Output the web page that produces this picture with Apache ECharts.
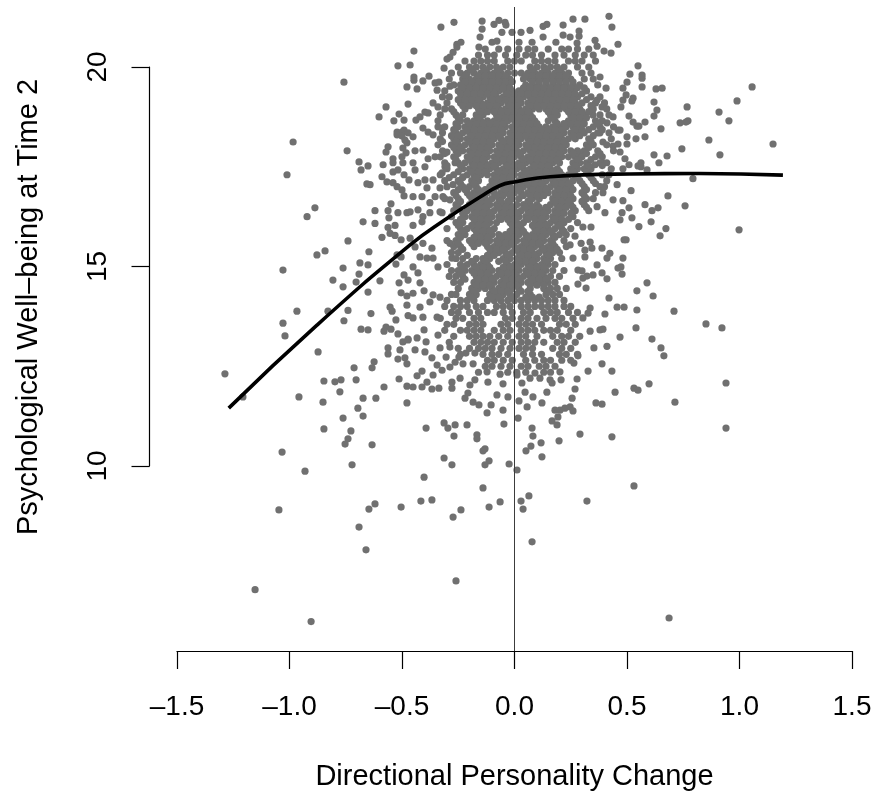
<!DOCTYPE html>
<html><head><meta charset="utf-8">
<style>html,body{margin:0;padding:0;background:#fff}#c{width:876px;height:794px}</style>
<script src="https://cdn.jsdelivr.net/npm/echarts@6/dist/echarts.min.js"></script>
</head><body><div id="c"></div>
<script>
const xTicks=[-1.5,-1,-0.5,0,0.5,1,1.5];
const xTickLabels=['–1.5','–1.0','–0.5','0.0','0.5','1.0','1.5'];
const xTitle='Directional Personality Change';
const yTitle='Psychological Well–being at Time 2';
const fitCurve=[[-1.27,11.45],[-.878,13.53],[-.464,15.54],[-.309,16.17],[-.153,16.74],[-.064,17.03],[0,17.12],[.158,17.25],[.513,17.32],[.82,17.33],[1.193,17.29]];
const upperLeft=[[-.518,20.03],[-.464,20.05],[-.758,19.62],[-.478,19.5],[-.473,19.07],[-.571,19],[-.513,18.82],[-.602,18.75],[-.536,18.65],[-.491,18.67],[-.522,18.37],[-.5,18.37],[-.522,18.3],[-.491,18.42],[-.473,18.35],[-.5,18.27],[-.984,18.12],[-.744,17.9],[-.478,18.1],[-.496,17.97],[-.562,18],[-.571,17.87],[-.482,17.85],[-.5,17.75],[-.691,17.62],[-.651,17.52],[-.584,17.55],[-.54,17.7],[-.54,17.6],[-.496,17.6],[-.682,17.42],[-1.011,17.3],[-.54,17.37],[-.518,17.42],[-.491,17.3],[-.589,17.25],[-.567,17.12],[-.54,17.1],[-.522,17],[-.5,16.92],[-.491,16.77],[-.469,17.17],[-.656,17.07],[-.642,17.05],[-.549,16.57],[-.887,16.47],[-.62,16.4],[-.562,16.4],[-.518,16.35],[-.478,16.35],[-.922,16.25],[-.558,16.22],[-.673,16.12]];
const lowerLeft=[[-.62,16.08],[-.562,15.98],[-.531,16.03],[-.553,15.83],[-.531,15.78],[-.589,15.73],[-.504,15.67],[-.74,15.64],[-.842,15.39],[-.878,15.29],[-.647,15.37],[-.522,15.29],[-.504,15.24],[-.687,15.09],[-.651,15.04],[-.527,15.06],[-1.029,14.91],[-.762,14.96],[-.691,14.81],[-.491,14.79],[-.473,14.66],[-.807,14.66],[-.704,14.61],[-.598,14.64],[-.513,14.59],[-.762,14.49],[-.651,14.36],[-.504,14.34],[-.478,14.26],[-.478,14.03],[-.553,13.98],[-.544,13.88],[-.967,13.88],[-.829,13.88],[-.74,13.9],[-.638,13.82],[-.473,13.77],[-.527,13.66],[-.758,13.64],[-1.029,13.58],[-1.02,13.26],[-.682,13.43],[-.651,13.41],[-.571,13.48],[-.58,13.38],[-.549,13.43],[-.518,13.31],[-.496,13.11],[-.473,13.16],[-.873,12.86],[-.562,12.96],[-.562,12.81],[-.509,12.91],[-.518,12.68],[-.487,12.71],[-.478,12.56],[-.713,12.46],[-.624,12.61],[-.633,12.46],[-1.287,12.31],[-.847,12.13],[-.798,12.11],[-.771,12.16],[-.704,12.16],[-.776,11.86],[-.513,12.18],[-.478,12],[-.58,11.98],[-1.207,11.73],[-.958,11.73],[-.851,11.6],[-.673,11.7],[-.616,11.7],[-.478,11.58],[-.696,11.45],[-.673,11.25],[-.762,11.2],[-.847,10.93],[-.727,10.88],[-.74,10.68],[-.753,10.55],[-.633,10.53],[-1.033,10.35],[-.931,9.87],[-.722,10.03]];
const bottomTail=[[-.393,10.95],[-.313,11.08],[-.296,10.95],[-.264,11.03],[-.211,11.03],[-.269,10.75],[-.167,10.78],[-.167,10.68],[-.131,10.43],[-.14,10.38],[-.313,10.2],[-.278,10.03],[-.113,10.13],[-.131,10.03],[-.402,9.72],[-.14,9.45],[-.416,9.12],[-.367,9.15],[-.064,9.1],[-.504,8.97],[-.62,9.05],[-.647,8.92],[-.113,8.97],[-.238,8.9],[-.273,8.72],[-1.047,8.9],[-.691,8.47],[-.66,7.9],[-.26,7.12],[-1.153,6.9],[-.904,6.1],[-.047,11.05],[.078,10.95],[.082,10.75],[.167,11.13],[.189,11.03],[.291,10.8],[.433,10.73],[.198,10.63],[.118,10.58],[.073,10.5],[.051,10.38],[.122,10.23],[-.024,10.05],[.011,9.9],[.064,9.25],[.029,9.12],[.038,8.92],[.322,9.12],[.531,9.5],[.078,8.1],[.687,6.19],[.94,10.95]];
const rightFringe=[[.482,15.21],[.473,14.99],[.478,14.81],[.589,14.59],[.544,14.39],[.616,14.26],[.487,13.98],[.544,13.91],[.709,13.88],[.851,13.56],[.922,13.46],[.54,13.46],[.469,13.23],[.611,13.18],[.651,12.96],[.664,12.76],[.94,12.08],[.598,12.06],[.531,11.95],[.549,11.9],[.713,11.6],[.549,20.03],[.513,19.82],[.567,19.8],[.567,19.72],[.5,19.62],[.482,19.47],[.567,19.5],[.629,19.45],[.656,19.47],[1.056,19.5],[.496,19.3],[.527,19.22],[.522,19.15],[.482,19.17],[.62,19.12],[.989,19.15],[.767,19],[.633,18.92],[.909,18.87],[.473,19],[.62,18.77],[.509,18.77],[.527,18.62],[.58,18.62],[.544,18.52],[.553,18.52],[.736,18.6],[.771,18.65],[.762,18.62],[.953,18.65],[.651,18.45],[.469,18.42],[.5,18.25],[.58,18.25],[.54,18.2],[.864,18.17],[1.149,18.07],[.5,18.07],[.744,17.95],[.469,17.87],[.62,17.8],[.913,17.8],[.678,17.77],[.491,17.7],[.642,17.6],[.562,17.6],[.509,17.55],[.549,17.52],[.562,17.5],[.482,17.45],[.589,17.42],[.793,17.2],[.518,16.9],[.682,16.77],[.482,16.65],[.58,16.55],[.509,16.47],[.758,16.52],[.638,16.47],[.611,16.4],[.478,16.35],[.522,16.22],[.469,16.17],[.607,16.12],[.553,16],[.673,15.95],[.998,15.92],[.647,15.77],[.487,15.67],[.496,15.67]];
const topFringe=[[-.327,21],[-.269,21.12],[-.144,21.15],[-.091,21.07],[-.069,21.17],[-.042,21.12],[-.038,21.05],[-.144,20.95],[-.153,20.75],[-.056,20.87],[-.011,20.87],[.029,20.87],[.069,20.92],[.127,21.02],[.144,21.07],[.216,21.05],[.26,21.2],[.313,21.2],[.42,21.27],[.433,21],[.287,20.9],[.216,20.8],[.247,20.75],[.287,20.77],[.127,20.75],[.02,20.62],[.078,20.62],[.184,20.62],[.278,20.6],[.358,20.67],[.367,20.52],[.46,20.57],[.398,20.4],[.429,20.35],[-.256,20.57],[-.238,20.62],[-.256,20.5],[-.447,20.4],[-.273,20.37],[-.287,20.25],[-.3,20.2],[-.158,20.5],[-.1,20.62],[-.078,20.65],[-.313,19.97],[-.38,19.77],[-.407,19.65],[-.447,19.75],[-.447,19.67],[-.433,19.45],[-.336,19.62],[-.287,19.52],[-.353,19.6],[-.344,19.42]];
const leftShoulder=[[-.362,19.1],[-.34,19],[-.384,18.85],[-.42,18.75],[-.438,18.67],[-.398,18.87],[-.407,18.47],[-.384,18.37],[-.362,18.3],[-.322,18.47],[-.451,18.25],[-.487,18.17],[-.442,17.9],[-.407,17.92],[-.353,17.75],[-.384,17.7],[-.3,17.87],[-.451,17.6],[-.442,17.42],[-.398,17.5],[-.309,17.5],[-.322,17.35],[-.264,17.6],[-.429,17.1],[-.398,17.17],[-.362,17.17],[-.331,16.97],[-.389,16.97],[-.411,16.75],[-.376,16.6],[-.451,16.75],[-.464,16.37],[-.429,16.42],[-.407,16.25],[-.331,16.37],[-.287,16.67],[-.353,16.75],[-.318,16.75],[-.229,17.25],[-.273,17.05]];
const rightShoulder=[[.38,19.75],[.407,19.47],[.367,19.17],[.389,19],[.438,18.75],[.411,18.6],[.349,18.8],[.46,18.42],[.38,18.35],[.393,18.12],[.438,18.02],[.46,18.07],[.291,17.82],[.393,17.6],[.358,17.55],[.322,17.5],[.456,17.05],[.38,17],[.438,16.67],[.367,16.5],[.402,16.35],[.393,16.85]];
const lowerBody=[[.247,15.54],[.26,15.21],[.269,15.76],[.296,15.58],[.313,15.41],[.336,15.61],[.344,15.46],[.304,15.99],[.34,15.99],[.389,15.46],[.424,15.33],[.411,15.21],[.46,14.96],[.367,15.04],[.313,15.24],[.282,14.91],[.3,14.89],[.322,14.76],[.349,14.79],[.389,14.84],[.411,14.69],[.304,14.71],[.282,14.56],[.318,14.46],[.42,14.21],[.456,13.98],[.336,13.96],[.327,13.83],[.304,13.71],[.402,13.81],[.336,13.38],[.38,13.41],[.393,13.43],[.353,12.96],[.411,13],[.389,12.56],[.327,12.38],[.433,12.38],[.447,11.85],[.362,11.58],[.389,11.55],[.282,12.76],[.264,12.58],[.278,12.18],[.269,11.93],[.256,11.7],[.247,11.48],[.26,11.38],[.224,11.45],[.202,11.4],[.18,11.4],[.193,11.23],[.016,11.2],[-.051,11.4],[-.122,11.33],[-.104,11.53],[-.158,11.53],[-.184,11.6],[-.22,11.7],[-.207,11.83],[-.078,11.78],[-.029,11.73],[.02,11.63],[.047,11.85],[.082,11.73],[.056,11.48],[.122,11.58],[.144,11.85],[.158,12.16],[.202,12.36],[.207,12.16],[.167,12.08],[.113,12.2],[.091,12.33],[.069,12.2],[.033,12.08],[.011,12.28],[-.051,12.06],[-.064,12.3],[-.122,12.36],[-.118,12.1],[-.176,12.16],[-.198,12.03],[-.242,12.2],[-.278,12.1],[-.278,11.95],[-.336,11.95],[-.367,11.93],[-.389,12.1],[-.411,11.98],[-.451,11.98],[-.433,12.26],[-.411,12.38],[-.362,12.28],[-.322,12.4],[-.344,12.53],[-.367,12.71],[-.287,12.48],[-.264,12.6],[-.229,12.56],[-.184,12.56],[-.176,12.83],[-.216,12.83],[-.247,12.73],[-.304,12.73],[-.287,12.98],[-.331,12.96],[-.34,13.28],[-.398,12.86],[-.442,12.91],[-.393,13.11],[-.433,13.21],[-.473,13.18],[-.402,13.41],[-.344,13.73],[-.451,13.71],[-.407,13.73],[-.42,13.98],[-.376,14.11],[-.451,14.33],[-.402,14.39],[-.362,14.29],[-.331,14.23],[-.42,14.59],[-.429,14.84],[-.451,14.99],[-.389,15.21],[-.362,15.21],[-.42,15.24],[-.34,14.99],[-.442,15.49],[-.367,15.46],[-.407,15.58],[-.464,15.71],[-.451,16.03],[-.411,16.12],[-.376,16.35],[-.322,16.35],[-.287,15.58],[-.278,15.21]];
const coreLevels=[20.45,20.3,20.15,20,19.85,19.7,19.55,19.4,19.25,19.1,18.95,18.8,18.65,18.5,18.35,18.2,18.05,17.9,17.75,17.6,17.45,17.3,17.15,17,16.85,16.7,16.55,16.4,16.25,16.1,15.95,15.8,15.65,15.5,15.35,15.2,15.05,14.9,14.75,14.6,14.45,14.3,14.15,14,13.85,13.7,13.55,13.4,13.25,13.1,12.95,12.8,12.65,12.5,12.35];
const coreChange=[
[-.13,-.07,-.03,.02,.06,.09,.15,.21,.24,.28,.33],
[-.16,-.12,-.09,-.04,.01,.05,.08,.12,.18,.22,.27,.31,.35],
[-.22,-.18,-.15,-.12,-.09,-.03,0,.03,.09,.12,.15,.18,.24,.27,.3,.36],
[-.25,-.2,-.17,-.14,-.11,-.08,-.05,-.02,.07,.1,.13,.16,.19,.22,.28,.33],
[-.28,-.24,-.21,-.18,-.15,-.12,-.09,-.06,-.03,0,.03,.06,.09,.12,.15,.18,.21,.24,.3,.34],
[-.29,-.23,-.2,-.17,-.14,-.11,-.08,-.05,-.02,.04,.07,.1,.13,.16,.19,.22,.25,.31,.35],
[-.27,-.24,-.21,-.18,-.15,-.12,-.09,-.06,-.03,.05,.08,.11,.14,.17,.2,.23,.26,.29,.37],
[-.31,-.25,-.22,-.19,-.16,-.13,-.1,-.07,-.04,-.01,.02,.05,.08,.11,.14,.17,.2,.23,.26,.32],
[-.32,-.29,-.23,-.2,-.17,-.14,-.11,-.08,-.05,-.02,.01,.04,.07,.1,.13,.16,.19,.22,.25,.28,.34,.38],
[-.3,-.24,-.21,-.18,-.15,-.12,-.09,-.06,-.03,0,.03,.06,.09,.12,.15,.18,.21,.24,.27,.3,.36,.4],
[-.31,-.28,-.22,-.16,-.13,-.1,-.07,-.04,-.01,.02,.05,.08,.11,.14,.17,.2,.23,.26,.29,.35,.41],
[-.33,-.26,-.23,-.17,-.14,-.08,-.05,-.02,.01,.04,.07,.16,.19,.25,.28,.31,.38,.42],
[-.34,-.24,-.21,-.18,-.15,-.12,-.09,-.06,-.03,0,.03,.06,.09,.15,.18,.24,.27,.3,.36,.39],
[-.34,-.31,-.25,-.22,-.19,-.16,-.13,-.1,-.07,-.04,-.01,.02,.05,.08,.11,.14,.17,.2,.23,.26,.29,.35,.38,.44],
[-.32,-.26,-.23,-.2,-.17,-.14,-.11,-.08,-.05,-.02,.01,.04,.07,.1,.13,.16,.19,.22,.25,.28,.31,.37,.42],
[-.33,-.27,-.24,-.21,-.18,-.15,-.12,-.09,-.06,-.03,0,.03,.06,.09,.12,.15,.18,.21,.24,.27,.33,.43],
[-.34,-.28,-.25,-.22,-.19,-.16,-.13,-.1,-.07,-.04,-.01,.02,.05,.08,.11,.14,.17,.2,.23,.32,.35,.41],
[-.32,-.26,-.23,-.2,-.17,-.14,-.11,-.08,-.05,-.02,.01,.04,.07,.1,.13,.16,.19,.22,.25,.28,.31,.37,.44],
[-.33,-.27,-.21,-.18,-.15,-.12,-.09,-.06,-.03,0,.03,.06,.09,.12,.15,.18,.21,.24,.27,.3,.36,.39],
[-.31,-.25,-.22,-.19,-.16,-.13,-.1,-.07,-.04,-.01,.02,.05,.08,.11,.14,.17,.2,.26,.29,.32,.38,.41],
[-.3,-.23,-.2,-.17,-.14,-.11,-.08,-.05,-.02,.01,.04,.07,.1,.13,.16,.19,.25,.28,.31,.34,.43],
[-.33,-.27,-.21,-.18,-.15,-.12,-.09,-.06,-.03,0,.03,.06,.09,.12,.15,.18,.21,.24,.27,.33,.39,.42],
[-.31,-.25,-.19,-.16,-.1,-.07,-.04,-.01,.02,.05,.08,.11,.14,.17,.2,.23,.26,.29,.35,.41],
[-.3,-.23,-.2,-.17,-.11,-.08,-.05,-.02,.01,.04,.07,.1,.13,.16,.19,.22,.25,.31,.4],
[-.27,-.21,-.18,-.15,-.12,-.09,-.06,-.03,0,.03,.06,.09,.12,.15,.18,.21,.24,.3,.36],
[-.31,-.25,-.19,-.16,-.13,-.1,-.07,-.01,.02,.08,.11,.17,.2,.23,.26,.32,.35],
[-.26,-.2,-.17,-.14,-.11,-.08,-.05,-.02,.01,.04,.07,.1,.16,.19,.22,.25,.31],
[-.27,-.21,-.18,-.15,-.12,-.09,-.06,-.03,0,.03,.06,.09,.12,.15,.18,.21,.27,.33],
[-.28,-.22,-.19,-.16,-.13,-.1,-.07,-.04,-.01,.02,.05,.08,.11,.14,.17,.2,.26],
[-.26,-.23,-.17,-.14,-.11,-.08,-.02,.01,.04,.1,.13,.16,.19,.22,.28],
[-.3,-.24,-.21,-.18,-.15,-.12,-.09,0,.03,.09,.12,.15,.18,.21,.25],
[-.25,-.22,-.16,-.13,-.1,-.07,-.04,-.01,.02,.05,.08,.11,.14,.17,.2,.23],
[-.3,-.26,-.2,-.17,-.14,-.11,-.08,-.05,-.02,.01,.04,.07,.1,.13,.16,.22],
[-.27,-.24,-.18,-.12,-.09,-.06,-.03,0,.03,.06,.09,.12,.15,.18,.23],
[-.28,-.25,-.1,-.07,-.04,-.01,.02,.05,.08,.11,.14,.17,.2],
[-.26,-.23,-.17,-.14,-.11,-.05,-.02,.01,.04,.07,.1,.13,.16,.21],
[-.3,-.24,-.21,-.18,-.15,-.12,-.03,0,.03,.06,.09,.12,.15,.18],
[-.28,-.25,-.22,-.19,-.16,-.13,-.1,-.07,-.04,-.01,.02,.05,.08,.11,.14,.17,.22],
[-.29,-.26,-.23,-.17,-.14,-.11,-.08,-.05,-.02,.01,.04,.07,.1,.13,.16,.2],
[-.27,-.24,-.18,-.15,-.12,-.09,-.06,-.03,0,.03,.06,.09,.12,.15,.18],
[-.25,-.19,-.16,-.13,-.1,-.07,-.04,-.01,.02,.07,.13,.16,.19,.23],
[-.28,-.26,-.2,-.17,-.11,-.08,-.05,-.02,.01,.07,.14,.17,.2],
[-.3,-.24,-.21,-.18,-.12,-.09,-.06,-.03,0,.03,.06,.09,.12,.15,.18,.22],
[-.31,-.27,-.24,-.21,-.17,-.14,-.08,-.05,-.02,.03,.06,.09,.12,.15,.18,.22,.25],
[-.28,-.25,-.2,-.16,-.12,-.09,-.05,-.01,.04,.07,.13,.16,.19,.24,.28],
[-.33,-.26,-.23,-.18,-.15,-.04,-.01,.03,.06,.1,.14,.18,.21,.26],
[-.3,-.27,-.2,-.17,-.14,-.06,-.03,.02,.05,.08,.12,.2,.23,.27],
[-.31,-.24,-.21,-.18,-.15,-.09,-.05,-.02,.03,.06,.09,.13,.16,.19,.25],
[-.27,-.2,-.17,-.14,-.11,-.07,-.03,.02,.05,.1,.17,.21,.24,.29],
[-.29,-.18,-.15,-.12,-.09,-.05,-.01,.03,.06,.09,.13,.19,.22,.27],
[-.25,-.2,-.16,-.13,-.1,-.06,-.02,.02,.05,.08,.17,.21,.25],
[-.24,-.14,-.1,-.07,-.03,.04,.08,.12,.2,.23,.28],
[-.12,-.09,-.05,-.01,.05,.09,.13,.16,.21,.25],
[-.13,-.1,-.06,-.02,.03,.06,.11,.14,.18],
[-.16,-.03,.01,.05,.13,.16]
];
const fillLevels=[19.93,19.78,19.63,19.48,19.33,19.18,19.03,18.88,18.73,18.58,18.43,18.28,18.13,17.98,17.83,17.68,17.53,17.38,17.23,17.08,16.93,16.78,16.63,16.48,16.33,16.18,16.03,15.88,15.73,15.58,15.43,15.28,15.13,14.98,14.83,14.68,14.53,14.38,14.23];
const fillChange=[
[-.19,-.13,-.07,.08,.14,.2],
[-.22,-.16,-.13,-.1,-.07,-.04,.05,.08,.11,.14,.17,.2,.23],
[-.22,-.19,-.16,-.13,-.1,-.07,-.04,-.01,.08,.11,.14,.17,.2,.23,.26],
[-.23,-.2,-.17,-.14,-.11,-.08,-.05,-.02,.04,.07,.1,.13,.16,.19,.22,.25,.28,.31],
[-.24,-.21,-.18,-.15,-.12,-.09,-.03,0,.03,.06,.09,.12,.15,.18,.21,.24,.27,.3],
[-.25,-.22,-.19,-.16,-.1,-.07,-.04,-.01,.02,.08,.11,.14,.17,.2,.23,.26,.32],
[-.23,-.2,-.17,-.14,-.11,-.08,-.02,.01,.07,.1,.13,.16,.19,.22,.25,.28,.34],
[-.27,-.15,-.12,-.09,-.06,-.03,0,.03,.06,.15,.18,.24,.27,.3,.33],
[-.25,-.16,-.07,-.04,-.01,.02,.05,.08,.17,.26,.29,.32],
[-.26,-.2,-.17,-.14,-.11,-.08,-.05,.01,.04,.07,.1,.19,.22,.25,.28,.31,.37],
[-.27,-.21,-.18,-.15,-.12,-.09,-.06,0,.03,.06,.09,.12,.15,.18,.21,.27,.3,.33,.39],
[-.28,-.25,-.19,-.16,-.13,-.1,-.07,-.01,.02,.05,.08,.11,.14,.17,.2,.26,.29,.35],
[-.32,-.26,-.2,-.17,-.14,-.11,-.05,-.02,.01,.07,.1,.13,.16,.19,.22,.34],
[-.27,-.24,-.18,-.15,-.12,-.06,-.03,0,.06,.09,.12,.15,.18,.21,.33],
[-.31,-.25,-.19,-.16,-.13,-.07,-.04,-.01,.02,.08,.11,.14,.17,.2,.26,.32,.38],
[-.26,-.2,-.17,-.14,-.08,-.05,-.02,.04,.07,.1,.13,.16,.19,.28,.34],
[-.3,-.24,-.18,-.15,-.12,-.09,-.03,0,.03,.09,.12,.15,.27,.33,.39],
[-.25,-.19,-.16,-.13,-.07,-.04,-.01,.05,.08,.11,.14,.17,.2,.26,.32],
[-.29,-.23,-.17,-.08,-.05,-.02,.04,.07,.1,.16,.19,.22,.28,.34],
[-.24,-.18,-.09,-.06,-.03,.03,.06,.09,.12,.18,.21,.24,.3,.36],
[-.25,-.22,-.16,-.13,-.1,-.04,-.01,.02,.08,.11,.14,.2,.23,.26,.32],
[-.26,-.2,-.17,-.14,-.08,-.05,-.02,.04,.07,.1,.13,.19,.22,.25,.31],
[-.24,-.18,-.15,-.12,-.06,-.03,.06,.18,.21,.24,.3],
[-.25,-.19,-.16,-.13,-.07,-.04,-.01,.05,.08,.11,.14,.2,.23,.26,.32],
[-.23,-.17,-.14,-.11,-.05,-.02,.01,.07,.1,.13,.19,.22,.25],
[-.24,-.18,-.15,-.12,-.06,-.03,0,.06,.09,.12,.18,.21,.24],
[-.25,-.19,-.16,-.13,-.01,.02,.08,.11,.14,.2],
[-.23,-.17,-.14,-.11,-.02,.01,.04,.1,.13,.16,.22],
[-.24,-.18,-.15,-.12,-.06,-.03,0,.06,.09,.12,.18],
[-.25,-.19,-.16,-.13,-.07,-.04,-.01,.05,.08,.11,.17],
[-.23,-.11,-.08,-.05,.01,.04,.07,.13,.16,.19],
[-.21,-.12,-.09,-.03,.03,.06,.09,.15],
[-.19,-.13,-.07,-.04,.02,.05,.08,.14],
[-.23,-.17,-.14,-.11,-.05,-.02,.01,.07,.1,.13],
[-.24,-.18,-.15,-.12,-.06,-.03,0,.06,.09,.12],
[-.22,-.16,-.13,-.1,-.04,-.01,.02,.08,.11,.14],
[-.17,-.14,-.11,-.05,-.02,.01,.07,.1,.13],
[-.18,-.09,-.06,-.03,.03,.06,.15],
[-.19,-.1,-.07,-.01,.05,.08,.11]
];
const corePoints=[];
coreLevels.forEach((y,i)=>coreChange[i].forEach(x=>corePoints.push([x,y])));
const fillPoints=[];
fillLevels.forEach((y,i)=>fillChange[i].forEach(x=>fillPoints.push([x,y])));
const scatterData=[].concat(upperLeft,lowerLeft,bottomTail,rightFringe,topFringe,leftShoulder,rightShoulder,lowerBody,corePoints,fillPoints);
const font='"Liberation Sans",Arial,sans-serif';
const yMin=5.363,yMax=21.504,xMin=-1.5,xMax=1.5,yAxisMin=10,yAxisMax=20,yAxisStep=5;
const chart=echarts.init(document.getElementById('c'),null,{renderer:'canvas'});
chart.setOption({
 animation:false,backgroundColor:'#fff',
 grid:[{left:177,right:24,top:7,bottom:143,outerBoundsMode:'none'},{left:149.5,width:600,top:67,height:399,outerBoundsMode:'none'}],
 xAxis:[{gridIndex:0,type:'value',min:xMin,max:xMax,interval:0.5,splitLine:{show:false},
  name:xTitle,nameLocation:'middle',nameGap:111,nameTextStyle:{color:'#000',fontFamily:font,fontSize:29},
  axisLine:{show:true,onZero:false,lineStyle:{color:'#000',width:1.2}},
  axisTick:{show:true,length:18,lineStyle:{color:'#000',width:1.2}},
  axisLabel:{color:'#000',fontFamily:font,fontSize:28,margin:42,showMinLabel:true,showMaxLabel:true,
   formatter:v=>xTickLabels[xTicks.indexOf(v)]}},
  {gridIndex:1,type:'value',min:0,max:1,show:false}],
 yAxis:[{gridIndex:0,type:'value',min:yMin,max:yMax,show:false,splitLine:{show:false}},
  {gridIndex:1,type:'value',min:yAxisMin,max:yAxisMax,interval:yAxisStep,splitLine:{show:false},
   axisLine:{show:true,onZero:false,lineStyle:{color:'#000',width:1.2}},
   axisTick:{show:true,length:18,lineStyle:{color:'#000',width:1.2}},
   axisLabel:{color:'#000',fontFamily:font,fontSize:28,rotate:90,margin:37,showMinLabel:true,showMaxLabel:true}}],
 graphic:[{type:'text',x:29,y:307,rotation:Math.PI/2,silent:true,
  style:{text:yTitle,fill:'#000',font:'29px '+font,textAlign:'center',textVerticalAlign:'middle'}}],
 series:[
  {type:'scatter',xAxisIndex:0,yAxisIndex:0,data:scatterData,symbol:'circle',symbolSize:7.2,itemStyle:{color:'#707070',opacity:1},z:2,silent:true,clip:false},
  {type:'line',xAxisIndex:0,yAxisIndex:0,data:[[0,yMin],[0,yMax]],symbol:'none',lineStyle:{color:'#3c3c3c',width:1},z:3,silent:true},
  {type:'line',xAxisIndex:0,yAxisIndex:0,data:fitCurve,symbol:'none',smooth:0.5,lineStyle:{color:'#000',width:3.6},z:4,silent:true}
 ]
});
</script></body></html>
